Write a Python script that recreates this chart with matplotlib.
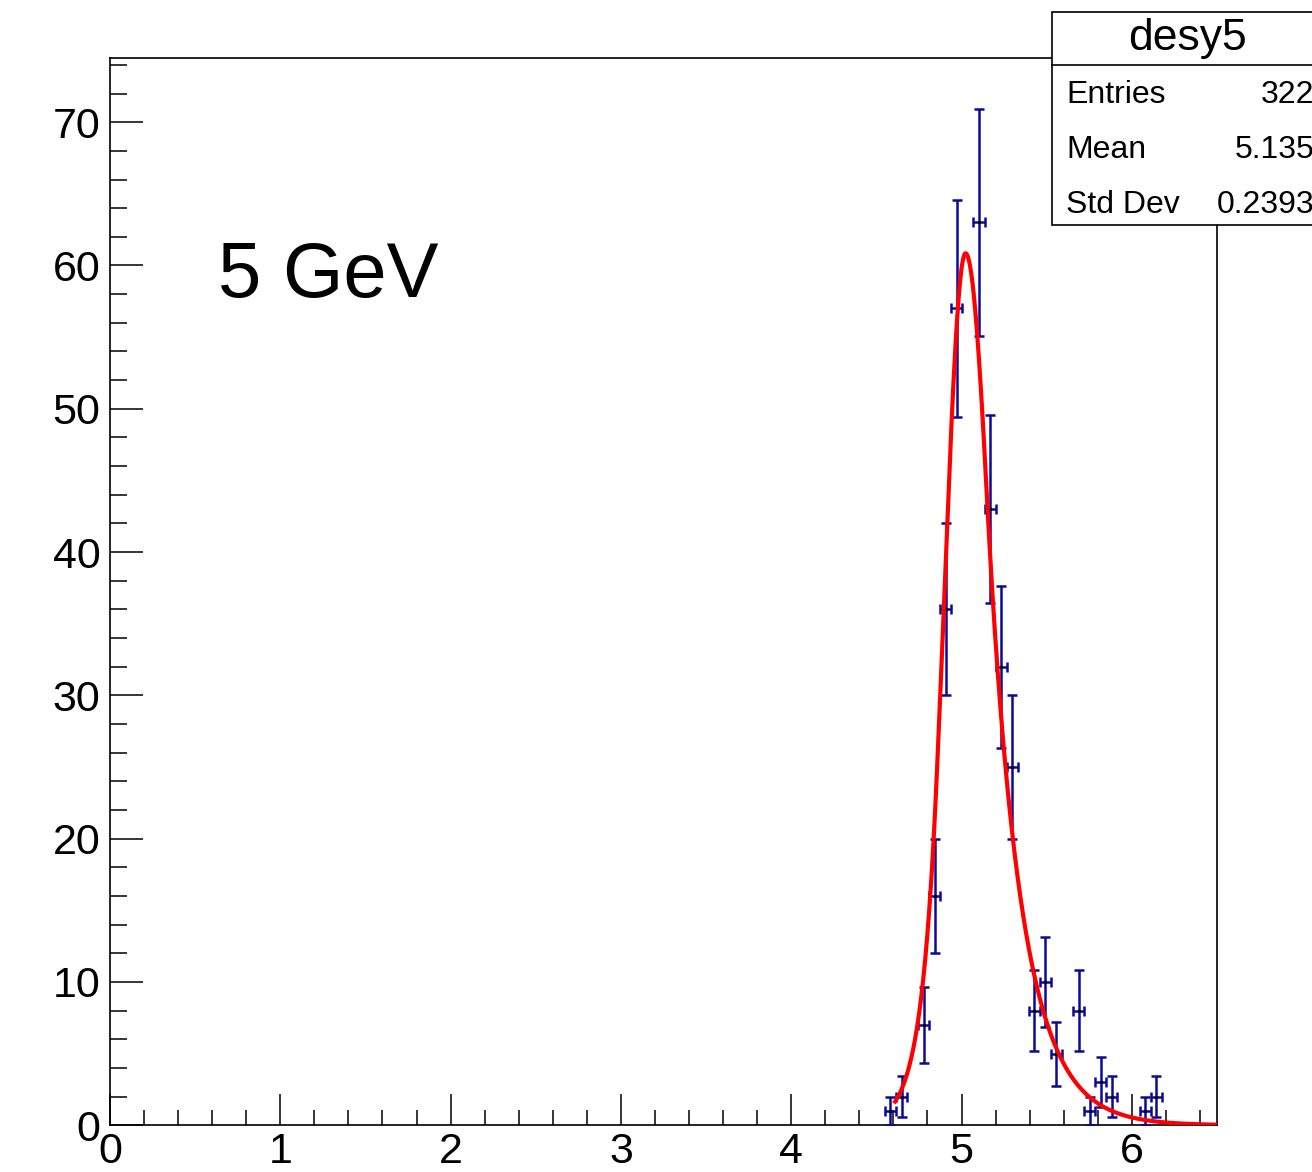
import numpy as np
import matplotlib
matplotlib.use("Agg")
import matplotlib.pyplot as plt
from matplotlib.ticker import MultipleLocator
from matplotlib.patches import Rectangle
from matplotlib.lines import Line2D

plt.rcParams['font.family'] = ['Liberation Sans', 'DejaVu Sans']

# ---- histogram data (non-empty bins of a 100-bin histogram on [0, 6.5]) ----
bin_centers = [4.5825, 4.6475, 4.7775, 4.8425, 4.9075, 4.9725, 5.1025, 5.1675,
               5.2325, 5.2975, 5.4275, 5.4925, 5.5575, 5.6875, 5.7525, 5.8175,
               5.8825, 6.0775, 6.1425]
counts = [1, 2, 7, 16, 36, 57, 63, 43, 32, 25, 8, 10, 5, 8, 1, 3, 2, 1, 2]
bin_width = 0.065

# ---- fit function parameters (asymmetric Gaussian with exponential tails) ----
fit_amp = 60.85
fit_mean = 5.0235
fit_sigma_left = 0.125
fit_tail_left = 11.0
fit_sigma_right = 0.155
fit_tail_right = 5.15
fit_range = (4.61, 6.5)

# ---- stats box ----
stats_title = "desy5"
stats_labels = ["Entries", "Mean", "Std Dev"]
stats_values = ["322", "5.135", "0.2393"]
energy_label = "5 GeV"

x_limits = (0, 6.5)
y_limits = (0, 74.5)


def fit_func(x):
    d = np.asarray(x) - fit_mean
    out = np.empty_like(d)
    tl = fit_tail_left * fit_sigma_left ** 2
    tr = fit_tail_right * fit_sigma_right ** 2
    m = d < 0
    dl = -d[m]
    g = dl ** 2 / (2 * fit_sigma_left ** 2)
    e = tl ** 2 / (2 * fit_sigma_left ** 2) + fit_tail_left * (dl - tl)
    out[m] = np.where(dl < tl, g, e)
    m2 = ~m
    dr = d[m2]
    g = dr ** 2 / (2 * fit_sigma_right ** 2)
    e = tr ** 2 / (2 * fit_sigma_right ** 2) + fit_tail_right * (dr - tr)
    out[m2] = np.where(dr < tr, g, e)
    return fit_amp * np.exp(-out)


W, H = 1312, 1172
fig = plt.figure(figsize=(W / 100, H / 100), dpi=100)
ax_l, ax_r, ax_t, ax_b = 110, 1217, 57.7, 1125.3
ax = fig.add_axes([ax_l / W, 1 - ax_b / H, (ax_r - ax_l) / W, (ax_b - ax_t) / H])

ax.set_xlim(*x_limits)
ax.set_ylim(*y_limits)

blue = '#0a0a9a'
xc = np.array(bin_centers)
yc = np.array(counts, dtype=float)
ax.errorbar(xc, yc, xerr=bin_width / 2, yerr=np.sqrt(yc), fmt='none',
            ecolor=blue, elinewidth=1.8, capsize=3.8, capthick=1.8, zorder=3)
ax.plot(xc, yc, linestyle='none', marker='s', markersize=1.2, color='black', zorder=4)

xf = np.linspace(fit_range[0], fit_range[1], 800)
ax.plot(xf, fit_func(xf), color='#ff0000', lw=3.0, zorder=5, clip_on=True)

ax.xaxis.set_major_locator(MultipleLocator(1))
ax.xaxis.set_minor_locator(MultipleLocator(0.2))
ax.yaxis.set_major_locator(MultipleLocator(10))
ax.yaxis.set_minor_locator(MultipleLocator(2))
ax.tick_params(axis='x', which='major', direction='in', length=22.5, width=1.1,
               labelsize=31, pad=5, top=False)
ax.tick_params(axis='x', which='minor', direction='in', length=11, width=1.1, top=False)
ax.tick_params(axis='y', which='major', direction='in', length=23.5, width=1.1,
               labelsize=31, pad=7, right=False)
ax.tick_params(axis='y', which='minor', direction='in', length=12, width=1.1, right=False)
for s in ax.spines.values():
    s.set_linewidth(1.2)

ax.text(218 / W, 1 - 297 / H, energy_label, transform=fig.transFigure,
        fontsize=56, ha='left', va='baseline')

# stats box
bx0, by_top, by_bot, bsep = 1051.7, 11.7, 225.0, 65.0
rect = Rectangle((bx0 / W, 1 - by_bot / H), (W + 20 - bx0) / W, (by_bot - by_top) / H,
                 transform=fig.transFigure, facecolor='white', edgecolor='black',
                 lw=1.2, zorder=10, clip_on=False)
fig.add_artist(rect)
fig.add_artist(Line2D([bx0 / W, 1.02], [1 - bsep / H, 1 - bsep / H],
                      transform=fig.transFigure, color='black', lw=1.2, zorder=11))
fig.text(1188 / W, 1 - 50 / H, stats_title, fontsize=32, ha='center', va='baseline',
         zorder=12)
baselines = [103, 158, 212.5]
for lab, val, b in zip(stats_labels, stats_values, baselines):
    fig.text(1066 / W, 1 - b / H, lab, fontsize=23, ha='left', va='baseline', zorder=12)
    fig.text(1314 / W, 1 - b / H, val, fontsize=23, ha='right', va='baseline', zorder=12)

fig.savefig('out.png', dpi=100)
